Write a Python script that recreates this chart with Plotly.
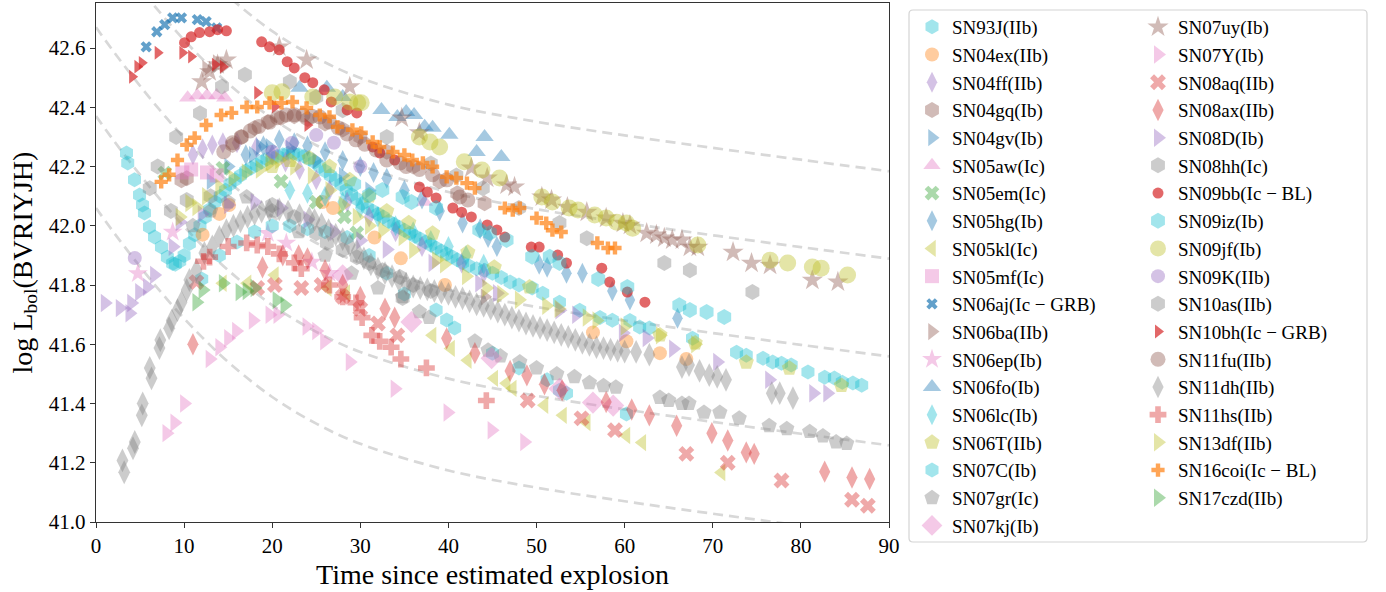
import plotly.graph_objects as go

# ---------------- dashed reference curves ----------------
curve_t = [0, 2, 4, 6, 8, 10, 12, 15, 20, 25, 30, 40, 50, 60, 70, 80, 90]
curve_A = [43.295, 43.213, 43.135, 43.06, 42.989, 42.922, 42.86, 42.775, 42.657, 42.567, 42.499, 42.409, 42.351, 42.305, 42.263, 42.223, 42.184]
curve_B = [43.0, 42.918, 42.84, 42.765, 42.694, 42.627, 42.565, 42.48, 42.362, 42.272, 42.204, 42.114, 42.056, 42.01, 41.968, 41.928, 41.889]
curve_C = [42.67, 42.588, 42.51, 42.435, 42.364, 42.297, 42.235, 42.15, 42.032, 41.942, 41.874, 41.784, 41.726, 41.68, 41.638, 41.598, 41.559]
curve_D = [42.37, 42.288, 42.21, 42.135, 42.064, 41.997, 41.935, 41.85, 41.732, 41.642, 41.574, 41.484, 41.426, 41.38, 41.338, 41.298, 41.259]
curve_E = [42.06, 41.978, 41.9, 41.825, 41.754, 41.687, 41.625, 41.54, 41.422, 41.332, 41.264, 41.174, 41.116, 41.07, 41.028, 40.988, 40.949]

# ---------------- supernova light curves ----------------
t_93J = [3.46, 3.6, 4.37, 4.94, 5.28, 5.5, 6.07, 6.64, 7.43, 8.1, 8.7, 9.0, 9.5, 10.0, 10.6, 11.2, 11.8, 12.4, 12.9, 13.5, 14.1, 14.7, 15.2, 15.8, 16.4, 17.0, 17.6, 18.2, 18.8, 19.4, 20.0, 20.6, 21.2, 21.8, 22.4, 23.0, 23.6, 24.2, 24.8, 25.4, 26.0, 26.6, 27.2, 27.8, 28.4, 29.0, 29.6, 30.2, 30.8, 31.4, 32.0, 32.6, 33.2, 33.8, 34.4, 35.0, 35.6, 36.2, 36.8, 37.4, 38.0, 38.6, 39.2, 39.8, 40.4, 41.0, 41.6, 42.3, 43.2, 44.1, 45.0, 46.0, 47.0, 48.0, 49.5, 50.7, 52.6, 54.9, 57.2, 58.6, 60.6, 61.7, 62.8, 67.7, 72.7, 73.8, 75.7, 76.8, 77.8, 78.9, 80.8, 82.7, 83.8, 84.7, 85.9, 86.9]
L_93J = [42.246, 42.212, 42.155, 42.104, 42.07, 42.043, 41.996, 41.962, 41.928, 41.894, 41.873, 41.87, 41.88, 41.9, 41.94, 41.97, 42.0, 42.03, 42.055, 42.08, 42.1, 42.12, 42.14, 42.155, 42.17, 42.185, 42.195, 42.205, 42.215, 42.225, 42.23, 42.235, 42.24, 42.245, 42.245, 42.24, 42.235, 42.225, 42.215, 42.2, 42.185, 42.17, 42.155, 42.14, 42.12, 42.105, 42.09, 42.075, 42.06, 42.05, 42.04, 42.03, 42.015, 42.005, 41.995, 41.985, 41.975, 41.965, 41.955, 41.945, 41.935, 41.925, 41.915, 41.905, 41.895, 41.885, 41.875, 41.865, 41.855, 41.85, 41.84, 41.825, 41.81, 41.8, 41.79, 41.772, 41.742, 41.715, 41.69, 41.681, 41.68, 41.658, 41.655, 41.62, 41.573, 41.563, 41.553, 41.54, 41.536, 41.53, 41.506, 41.489, 41.486, 41.472, 41.469, 41.462]

t_04ex = [12.1, 14.0, 15.1, 25.7, 26.9, 31.6, 34.6, 39.6, 56.4, 60.2, 64.0, 67.0]
L_04ex = [41.97, 42.04, 42.07, 42.08, 42.06, 41.96, 41.89, 41.80, 41.64, 41.61, 41.57, 41.55]

t_04ff = [11.0, 12.1, 13.2, 14.4, 16.0, 18.2, 20.0, 21.5, 23.1, 25.0, 26.5, 28.5, 31.0, 34.0, 37.0, 41.5, 44.0]
L_04ff = [42.24, 42.26, 42.273, 42.28, 42.28, 42.266, 42.24, 42.215, 42.189, 42.155, 42.121, 42.08, 42.03, 41.98, 41.93, 41.874, 41.84]

t_04gq = [9.7, 10.3, 15.5, 16.5, 18.0, 19.5, 21.0, 22.5, 24.0, 26.0, 28.0, 30.0, 33.0, 36.0, 39.0, 41.0, 44.1]
L_04gq = [42.154, 42.16, 42.273, 42.3, 42.33, 42.35, 42.365, 42.37, 42.36, 42.345, 42.325, 42.3, 42.25, 42.2, 42.15, 42.11, 42.076]

t_04gv = [13.0, 15.0, 17.8, 18.6, 19.7, 22.0, 25.0, 28.0, 31.0]
L_04gv = [42.15, 42.2, 42.24, 42.267, 42.267, 42.26, 42.22, 42.17, 42.12]

t_05aw = [10.4, 11.5, 12.6, 13.7, 14.6, 37.3]
L_05aw = [42.432, 42.44, 42.44, 42.44, 42.432, 42.08]

t_05em = [7.8, 14.4, 21.0, 25.0, 28.2, 29.6]
L_05em = [42.178, 42.194, 42.15, 42.08, 42.03, 41.976]

t_05hg = [17.0, 19.0, 20.8, 22.5, 24.0, 26.0, 28.0, 30.0, 31.5, 33.0, 35.0, 37.0, 39.0, 41.6, 43.6, 44.5, 45.5, 50.3, 51.2, 53.4, 55.2, 58.6, 60.6, 66.0]
L_05hg = [42.24, 42.27, 42.29, 42.28, 42.27, 42.25, 42.22, 42.2, 42.18, 42.16, 42.12, 42.09, 42.05, 42.009, 41.99, 41.96, 41.93, 41.87, 41.86, 41.84, 41.84, 41.78, 41.749, 41.688]

t_05kl = [14.4, 17.2, 20.3, 26.3, 28.4, 38.2, 40.3, 42.2, 45.2, 46.6, 47.3, 50.9, 53.0, 55.7, 60.2, 62.0, 71.0]
L_05kl = [41.806, 41.806, 41.834, 41.79, 41.773, 41.63, 41.586, 41.546, 41.485, 41.468, 41.451, 41.394, 41.36, 41.336, 41.292, 41.268, 41.167]

t_05mf = [9.8, 10.8, 12.6, 13.7]
L_05mf = [42.18, 42.19, 42.18, 42.17]

t_06aj = [5.7, 6.9, 7.8, 8.7, 9.7, 11.5, 12.5, 13.7]
L_06aj = [42.604, 42.655, 42.679, 42.702, 42.702, 42.696, 42.689, 42.668]

t_06ba = [12.5, 13.7, 14.5, 44.1]
L_06ba = [42.53, 42.55, 42.54, 41.76]

t_06ep = [4.75, 8.7, 19.5, 21.6, 24.5, 26.5]
L_06ep = [41.839, 41.979, 41.975, 41.942, 41.878, 41.84]

t_06fo = [23.1, 26.2, 28.0, 32.4, 34.2, 35.2, 36.1, 37.3, 38.2, 40.1, 43.2, 44.1, 46.0]
L_06fo = [42.466, 42.466, 42.435, 42.391, 42.367, 42.384, 42.374, 42.334, 42.331, 42.307, 42.249, 42.3, 42.232]

t_06lc = [22.0, 24.0, 26.0, 28.0, 30.0, 32.0, 34.0, 36.0, 38.0, 40.0, 42.0, 44.0]
L_06lc = [42.12, 42.11, 42.1, 42.08, 42.06, 42.03, 42.0, 41.98, 41.95, 41.93, 41.9, 41.87]

t_06T = [20.0, 22.0, 24.2, 26.5, 28.8, 31.0, 33.0, 35.5, 38.2, 42.2, 45.2, 49.2, 64.0, 68.0, 73.8, 78.7, 84.6]
L_06T = [42.2, 42.22, 42.229, 42.2, 42.155, 42.1, 42.05, 42.01, 41.975, 41.911, 41.86, 41.793, 41.631, 41.604, 41.539, 41.519, 41.461]

t_07C = [12.0, 14.0, 16.0, 18.0, 20.0, 22.0, 24.0, 26.0, 28.5, 31.0, 33.0, 35.0, 38.6, 39.8, 40.7, 45.0, 48.0, 51.2, 52.6, 53.4, 60.2]
L_07C = [41.82, 41.9, 41.945, 41.98, 42.0, 42.0, 41.99, 41.98, 41.96, 41.9, 41.84, 41.77, 41.716, 41.682, 41.655, 41.57, 41.52, 41.48, 41.445, 41.435, 41.365]

t_07gr = [11.0, 13.0, 15.0, 17.1, 20.0, 23.0, 26.0, 29.0, 32.0, 34.8, 36.7, 37.8, 43.0, 44.5, 45.9, 48.1, 50.0, 52.3, 54.3, 56.0, 57.6, 59.0, 64.0, 65.0, 66.5, 67.3, 69.0, 70.8, 73.0, 76.4, 78.4, 81.0, 82.5, 84.0, 85.2]
L_07gr = [42.0, 42.05, 42.08, 42.097, 42.05, 41.98, 41.9, 41.84, 41.79, 41.76, 41.71, 41.69, 41.61, 41.58, 41.56, 41.54, 41.52, 41.5, 41.49, 41.47, 41.46, 41.455, 41.42, 41.41, 41.4, 41.4, 41.37, 41.37, 41.35, 41.325, 41.315, 41.305, 41.29, 41.27, 41.265]

t_07kj = [28.0, 35.8, 44.9, 52.6, 56.4, 58.7]
L_07kj = [41.833, 41.675, 41.553, 41.45, 41.403, 41.393]

t_07uy = [12.0, 12.9, 13.8, 14.8, 20.8, 23.9, 28.8, 34.7, 36.7, 42.6, 44.4, 46.6, 47.5, 50.6, 51.7, 53.5, 55.7, 57.9, 59.8, 60.6, 62.5, 63.6, 64.5, 65.4, 66.5, 67.4, 68.3, 72.3, 74.4, 76.5, 81.3, 84.2]
L_07uy = [42.486, 42.52, 42.544, 42.56, 42.604, 42.56, 42.469, 42.364, 42.314, 42.195, 42.161, 42.138, 42.131, 42.097, 42.087, 42.063, 42.046, 42.026, 42.009, 42.002, 41.975, 41.969, 41.959, 41.952, 41.952, 41.928, 41.928, 41.911, 41.874, 41.867, 41.816, 41.81]

t_07Y = [8.0, 8.9, 10.0, 12.9, 14.0, 15.0, 15.9, 17.8, 19.7, 20.6, 23.9, 25.0, 25.9, 28.8, 33.9, 39.9, 44.9, 48.6]
L_07Y = [41.3, 41.335, 41.4, 41.55, 41.59, 41.62, 41.645, 41.68, 41.70, 41.7, 41.66, 41.645, 41.61, 41.54, 41.45, 41.37, 41.31, 41.27]

t_08aq = [11.4, 18.3, 20.3, 23.3, 25.6, 28.0, 30.0, 32.0, 34.2, 49.0, 55.1, 58.9, 67.0, 71.7, 77.8, 85.8, 87.6]
L_08aq = [41.81, 41.79, 41.80, 41.79, 41.80, 41.76, 41.72, 41.67, 41.63, 41.41, 41.35, 41.31, 41.23, 41.20, 41.14, 41.075, 41.055]

t_08ax = [11.0, 18.9, 21.2, 23.0, 24.0, 26.0, 28.0, 30.0, 32.8, 33.9, 39.8, 43.0, 47.0, 48.9, 50.9, 52.9, 57.9, 60.8, 62.8, 65.9, 69.9, 71.7, 73.8, 74.7, 82.7, 85.8, 87.8]
L_08ax = [41.6, 41.86, 41.9, 41.9, 41.89, 41.85, 41.8, 41.76, 41.72, 41.69, 41.62, 41.57, 41.51, 41.495, 41.465, 41.445, 41.405, 41.38, 41.36, 41.325, 41.3, 41.275, 41.235, 41.23, 41.17, 41.15, 41.145]

t_08D = [1.0, 2.7, 3.8, 4.0, 4.9, 5.8, 6.6, 8.7, 9.5, 12.0, 15.0, 18.0, 21.0, 24.0, 27.0, 30.0, 33.0, 38.2, 43.5, 45.5, 52.6, 54.5, 59.8, 62.5, 65.5, 70.5, 76.4, 81.4, 83.0]
L_08D = [41.739, 41.722, 41.705, 41.739, 41.776, 41.793, 41.834, 41.929, 42.013, 42.04, 42.07, 42.08, 42.06, 42.02, 41.98, 41.95, 41.92, 41.874, 41.806, 41.772, 41.715, 41.7, 41.638, 41.621, 41.585, 41.54, 41.48, 41.435, 41.435]

t_08hh = [6.1, 7.0, 9.1, 11.8, 14.3, 16.9, 22.0, 25.0, 28.0, 33.0, 38.0, 40.9, 43.9, 48.0, 52.6, 55.7, 64.5, 67.4, 74.5]
L_08hh = [42.127, 42.2, 42.3, 42.38, 42.47, 42.51, 42.486, 42.435, 42.39, 42.3, 42.21, 42.17, 42.127, 42.06, 42.009, 41.958, 41.874, 41.85, 41.776]

t_09bb = [10.05, 10.8, 11.75, 12.9, 13.8, 14.8, 18.8, 19.7, 20.8, 21.7, 22.5, 23.7, 24.6, 25.9, 26.7, 28.5, 29.6, 31.4, 32.2, 33.9, 36.7, 37.6, 38.6, 40.5, 41.5, 42.6, 44.4, 45.5, 46.4, 49.4, 50.3, 52.4, 53.4, 57.4, 58.3, 60.3, 62.3]
L_09bb = [42.618, 42.638, 42.652, 42.655, 42.662, 42.658, 42.621, 42.604, 42.594, 42.554, 42.533, 42.5, 42.483, 42.459, 42.418, 42.391, 42.381, 42.266, 42.246, 42.222, 42.131, 42.114, 42.094, 42.06, 42.046, 42.03, 42.003, 41.986, 41.962, 41.928, 41.928, 41.901, 41.874, 41.857, 41.81, 41.776, 41.742]

t_09iz = [29.3, 31.0, 32.5, 34.8, 35.8, 38.6, 43.5, 44.7, 46.6, 49.5, 51.5, 52.6, 57.0, 60.3, 66.2, 67.4, 69.3, 71.3]
L_09iz = [42.14, 42.104, 42.121, 42.097, 42.08, 42.06, 41.986, 41.976, 41.952, 41.895, 41.895, 41.874, 41.82, 41.793, 41.732, 41.716, 41.709, 41.692]

t_09jf = [20.0, 21.1, 24.6, 27.1, 28.8, 29.7, 30.1, 36.7, 37.9, 39.0, 41.8, 43.8, 45.8, 50.6, 51.8, 53.7, 54.7, 56.6, 57.9, 59.1, 60.2, 60.9, 68.3, 76.5, 78.5, 81.3, 82.3, 85.3]
L_09jf = [42.449, 42.452, 42.435, 42.435, 42.418, 42.415, 42.415, 42.3, 42.283, 42.266, 42.216, 42.188, 42.161, 42.097, 42.08, 42.06, 42.053, 42.036, 42.026, 42.012, 42.009, 41.992, 41.935, 41.884, 41.874, 41.861, 41.857, 41.834]

t_09K = [4.4, 20.0, 22.2, 25.0, 27.0, 30.0]
L_09K = [41.891, 42.25, 42.279, 42.306, 42.28, 42.2]

t_10as = [8.5, 10.3, 13.0, 20.0, 22.5, 25.0, 26.2, 28.0, 29.6, 31.0, 32.5, 34.5, 34.8, 36.0, 38.0]
L_10as = [42.05, 42.087, 42.1, 42.07, 42.03, 41.975, 41.942, 41.918, 41.894, 41.874, 41.85, 41.827, 41.756, 41.8, 41.78]

t_10bh = [4.1, 4.7, 5.2, 7.0, 9.8, 10.8, 13.5, 14.4, 18.3, 20.3, 24.0]
L_10bh = [42.503, 42.537, 42.55, 42.584, 42.584, 42.571, 42.544, 42.537, 42.449, 42.402, 42.34]

t_11fu = [14.5, 15.5, 16.5, 17.5, 18.5, 19.7, 20.6, 21.6, 22.5, 23.5, 24.5, 25.4, 26.5, 27.5, 28.5, 29.5, 30.5, 31.8, 33.0, 34.5, 35.2, 36.7, 38.2, 39.8, 41.3, 42.2]
L_11fu = [42.25, 42.28, 42.3, 42.32, 42.335, 42.35, 42.365, 42.374, 42.375, 42.374, 42.37, 42.367, 42.35, 42.33, 42.31, 42.29, 42.275, 42.256, 42.222, 42.212, 42.2, 42.19, 42.172, 42.155, 42.097, 42.087]

t_11dh = [3.0, 3.2, 4.2, 4.4, 5.2, 5.3, 6.1, 6.3, 7.2, 7.3, 8.3, 8.6, 9.25, 9.7, 10.3, 10.6, 11.4, 12.3, 13.2, 14.0, 14.8, 15.6, 16.4, 17.2, 18.0, 18.8, 19.7, 20.8, 21.8, 23.1, 24.2, 24.8, 25.6, 26.4, 27.2, 28.0, 28.8, 29.6, 30.4, 31.2, 32.0, 32.8, 33.6, 34.4, 35.2, 36.0, 36.8, 37.6, 38.4, 39.2, 40.0, 40.8, 41.6, 42.4, 43.2, 44.0, 44.8, 45.6, 46.4, 47.2, 48.0, 48.8, 49.6, 50.4, 51.2, 52.0, 52.8, 53.6, 54.4, 55.2, 56.0, 56.8, 57.6, 58.4, 59.2, 60.0, 61.3, 62.8, 66.5, 67.3, 68.5, 69.6, 70.5, 71.5, 76.7, 77.6, 79.1]
L_11dh = [41.208, 41.168, 41.249, 41.27, 41.36, 41.4, 41.52, 41.485, 41.587, 41.614, 41.654, 41.68, 41.715, 41.742, 41.783, 41.817, 41.85, 41.908, 41.93, 41.962, 41.985, 42.0, 42.015, 42.03, 42.04, 42.048, 42.053, 42.055, 42.048, 42.036, 42.026, 42.02, 42.005, 41.985, 41.97, 41.955, 41.935, 41.915, 41.89, 41.87, 41.855, 41.84, 41.83, 41.815, 41.805, 41.795, 41.79, 41.785, 41.78, 41.775, 41.77, 41.76, 41.755, 41.745, 41.735, 41.73, 41.72, 41.71, 41.7, 41.69, 41.68, 41.67, 41.662, 41.655, 41.648, 41.64, 41.632, 41.625, 41.615, 41.605, 41.598, 41.59, 41.587, 41.582, 41.578, 41.575, 41.574, 41.565, 41.523, 41.53, 41.51, 41.496, 41.49, 41.48, 41.435, 41.435, 41.418]

t_11hs = [12.2, 12.9, 15.0, 17.1, 18.3, 19.5, 20.8, 22.5, 23.3, 26.5, 28.0, 29.5, 30.2, 31.3, 32.2, 33.5, 34.6, 37.5, 44.3]
L_11hs = [41.88, 41.894, 41.93, 41.942, 41.935, 41.93, 41.905, 41.875, 41.855, 41.8, 41.76, 41.74, 41.69, 41.63, 41.61, 41.59, 41.55, 41.52, 41.41]

t_13df = [9.5, 10.6, 11.4, 12.5, 14.0, 15.5, 17.0, 18.6, 19.7, 20.8, 22.5, 24.5, 26.5, 28.0, 29.6, 31.0, 32.5, 34.8, 36.0, 38.6, 39.5, 42.0, 44.3, 46.0, 48.0, 51.1, 52.5, 55.7, 56.8, 60.0, 64.0, 68.0]
L_13df = [42.03, 42.077, 42.063, 42.1, 42.13, 42.16, 42.18, 42.19, 42.212, 42.222, 42.2, 42.17, 42.12, 42.07, 42.03, 42.0, 41.986, 41.962, 41.918, 41.884, 41.87, 41.83, 41.79, 41.77, 41.75, 41.73, 41.72, 41.69, 41.68, 41.66, 41.63, 41.6]

t_16coi = [7.4, 8.3, 9.25, 10.3, 11.2, 12.5, 14.2, 15.4, 17.1, 18.3, 19.7, 21.05, 22.3, 23.9, 25.4, 26.5, 27.4, 29.1, 30.1, 31.4, 32.2, 33.7, 35.0, 35.9, 37.1, 38.2, 39.8, 40.9, 42.1, 43.0, 46.4, 47.3, 48.1, 50.0, 51.1, 51.8, 52.8, 56.9, 58.1, 58.9]
L_16coi = [42.148, 42.172, 42.222, 42.273, 42.297, 42.34, 42.374, 42.381, 42.401, 42.401, 42.415, 42.415, 42.418, 42.398, 42.374, 42.368, 42.334, 42.324, 42.314, 42.283, 42.266, 42.249, 42.239, 42.222, 42.212, 42.199, 42.165, 42.161, 42.144, 42.127, 42.06, 42.053, 42.06, 42.026, 42.009, 41.985, 41.979, 41.942, 41.925, 41.925]

t_17czd = [11.4, 12.1, 14.4, 16.3, 17.1, 18.0, 20.5, 21.4]
L_17czd = [41.742, 41.783, 41.806, 41.776, 41.78, 41.79, 41.749, 41.732]

names = ["SN93J(IIb)", "SN04ex(IIb)", "SN04ff(IIb)", "SN04gq(Ib)", "SN04gv(Ib)", "SN05aw(Ic)",
         "SN05em(Ic)", "SN05hg(Ib)", "SN05kl(Ic)", "SN05mf(Ic)", "SN06aj(Ic \u2212 GRB)", "SN06ba(IIb)",
         "SN06ep(Ib)", "SN06fo(Ib)", "SN06lc(Ib)", "SN06T(IIb)", "SN07C(Ib)", "SN07gr(Ic)", "SN07kj(Ib)",
         "SN07uy(Ib)", "SN07Y(Ib)", "SN08aq(IIb)", "SN08ax(IIb)", "SN08D(Ib)", "SN08hh(Ic)",
         "SN09bb(Ic \u2212 BL)", "SN09iz(Ib)", "SN09jf(Ib)", "SN09K(IIb)", "SN10as(IIb)",
         "SN10bh(Ic \u2212 GRB)", "SN11fu(IIb)", "SN11dh(IIb)", "SN11hs(IIb)", "SN13df(IIb)",
         "SN16coi(Ic \u2212 BL)", "SN17czd(IIb)"]
times = [t_93J, t_04ex, t_04ff, t_04gq, t_04gv, t_05aw, t_05em, t_05hg, t_05kl, t_05mf, t_06aj, t_06ba,
         t_06ep, t_06fo, t_06lc, t_06T, t_07C, t_07gr, t_07kj, t_07uy, t_07Y, t_08aq, t_08ax, t_08D, t_08hh,
         t_09bb, t_09iz, t_09jf, t_09K, t_10as, t_10bh, t_11fu, t_11dh, t_11hs, t_13df, t_16coi, t_17czd]
lums = [L_93J, L_04ex, L_04ff, L_04gq, L_04gv, L_05aw, L_05em, L_05hg, L_05kl, L_05mf, L_06aj, L_06ba,
        L_06ep, L_06fo, L_06lc, L_06T, L_07C, L_07gr, L_07kj, L_07uy, L_07Y, L_08aq, L_08ax, L_08D, L_08hh,
        L_09bb, L_09iz, L_09jf, L_09K, L_10as, L_10bh, L_11fu, L_11dh, L_11hs, L_13df, L_16coi, L_17czd]

# ---------------- styles ----------------
CY, OR, PU, BR, BL, PK, GR, OL, GY, RD = ("#17becf", "#ff7f0e", "#9467bd", "#8c564b", "#1f77b4",
                                          "#e377c2", "#2ca02c", "#bcbd22", "#7f7f7f", "#d62728")
colors = [CY, OR, PU, BR, BL, PK, GR, BL, OL, PK, BL, BR, PK, BL, CY, OL, CY, GY, PK,
          BR, PK, RD, RD, PU, GY, RD, CY, OL, PU, GY, RD, BR, GY, RD, OL, OR, GR]
symbols = ["hexagon", "circle", "diamond-tall", "hexagon", "triangle-right", "triangle-up", "x",
           "diamond-tall", "triangle-left", "square", "x", "triangle-right", "star", "triangle-up",
           "diamond-tall", "pentagon", "hexagon", "pentagon", "diamond",
           "star", "triangle-right", "x", "diamond-tall", "triangle-right", "hexagon", "circle",
           "hexagon", "circle", "circle", "hexagon", "triangle-right", "circle", "diamond-tall",
           "cross", "triangle-right", "cross", "triangle-right"]
sizes = [15, 14, 15, 16, 15, 15, 13, 15, 15, 14, 10, 15, 15, 16, 15, 16, 15, 16, 17,
         16, 16, 14, 16, 16, 16, 11, 16, 17, 14, 16, 12, 15, 17, 14, 16, 11, 16]
alphas = [0.4] * 37
for i in (10, 25, 30, 35):
    alphas[i] = 0.7

FONT = "Liberation Serif"
fig = go.Figure()

for cy in (curve_A, curve_B, curve_C, curve_D, curve_E):
    fig.add_trace(go.Scatter(x=curve_t, y=cy, mode="lines", showlegend=False, hoverinfo="skip",
                             line=dict(color="#d8d8d8", width=2.7, dash="10px,6px", shape="spline")))

for i, nm in enumerate(names):
    fig.add_trace(go.Scatter(
        x=times[i], y=lums[i], mode="markers", name=nm,
        legend="legend" if i < 19 else "legend2",
        marker=dict(color=colors[i], symbol=symbols[i], size=sizes[i], opacity=alphas[i],
                    line=dict(width=0))))

W, H = 1386, 592
ML, MR, MT, MB = 96, 497, 3, 70
pw, ph = W - ML - MR, H - MT - MB


def px2paper(px, py):
    return (px - ML) / pw, (H - MB - py) / ph


# legend frame with rounded corners
x0, y0 = px2paper(909, 542)
x1, y1 = px2paper(1367, 10)
rx, ry = 4 / pw, 4 / ph
path = (f"M{x0+rx},{y0} L{x1-rx},{y0} Q{x1},{y0} {x1},{y0+ry} L{x1},{y1-ry} Q{x1},{y1} {x1-rx},{y1} "
        f"L{x0+rx},{y1} Q{x0},{y1} {x0},{y1-ry} L{x0},{y0+ry} Q{x0},{y0} {x0+rx},{y0} Z")

legend_common = dict(xref="container", yref="container", xanchor="left", yanchor="top",
                     bgcolor="rgba(0,0,0,0)", borderwidth=0, traceorder="normal", maxheight=700,
                     font=dict(family=FONT, size=19, color="black"))

fig.update_layout(
    width=W, height=H,
    margin=dict(l=ML, r=MR, t=MT, b=MB),
    paper_bgcolor="white", plot_bgcolor="white",
    font=dict(family=FONT, color="black"),
    shapes=[dict(type="path", xref="paper", yref="paper", path=path,
                 line=dict(color="#d4d4d4", width=1.2), fillcolor="rgba(0,0,0,0)", layer="below")],
    legend=dict(x=912 / W, y=1 - 8 / H, **legend_common),
    legend2=dict(x=1138 / W, y=1 - 8 / H, **legend_common),
    xaxis=dict(range=[0, 90], dtick=10, tick0=0, showgrid=False, zeroline=False,
               showline=True, mirror=True, linecolor="#333", linewidth=1.4,
               ticks="outside", ticklen=5, tickwidth=1.3, tickcolor="#333",
               tickfont=dict(family=FONT, size=21, color="black"),
               title=dict(text="Time since estimated explosion",
                          font=dict(family=FONT, size=28, color="black"), standoff=6)),
    yaxis=dict(range=[41.0, 42.752], dtick=0.2, tick0=41.0, tickformat=".1f", showgrid=False,
               zeroline=False, showline=True, mirror=True, linecolor="#333", linewidth=1.4,
               ticks="outside", ticklen=5, tickwidth=1.3, tickcolor="#333",
               tickfont=dict(family=FONT, size=21, color="black"),
               title=dict(text="log L<sub>bol</sub>(BVRIYJH)",
                          font=dict(family=FONT, size=28, color="black"), standoff=8)),
)

fig.write_html("out.html")
